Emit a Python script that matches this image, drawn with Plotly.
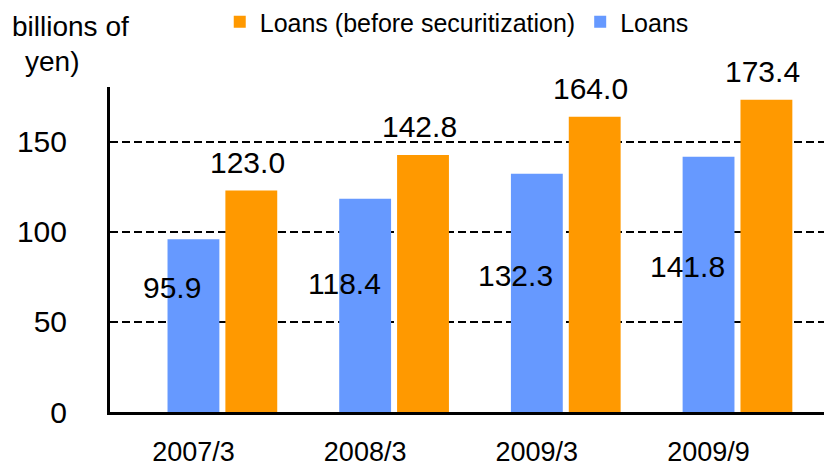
import plotly.graph_objects as go

# data (billions of yen)
periods = ["2007/3", "2008/3", "2009/3", "2009/9"]
loans = [95.9, 118.4, 132.3, 141.8]
loans_before_sec = [123.0, 142.8, 164.0, 173.4]

# where the "Loans" value labels sit (y, data units) - placed inside the blue bars
loan_label_y = [69.4, 71.1, 75.6, 80.6]

FONT = "Arial, Liberation Sans, sans-serif"
BLUE = "#6699FF"
ORANGE = "#FF9900"

fig = go.Figure()
fig.add_trace(go.Bar(
    x=periods, y=loans, name="Loans",
    marker=dict(color=BLUE, line=dict(width=0)),
    offset=-0.151, width=0.302,
))
fig.add_trace(go.Bar(
    x=periods, y=loans_before_sec, name="Loans (before securitization)",
    marker=dict(color=ORANGE, line=dict(width=0)),
    offset=0.186, width=0.302,
))

# value labels
for p, v, ly in zip(periods, loans, loan_label_y):
    fig.add_annotation(x=p, y=ly, text=f"{v:.1f}", showarrow=False,
                       xshift=-21, font=dict(size=30, color="black", family=FONT))
for p, v in zip(periods, loans_before_sec):
    fig.add_annotation(x=p, y=v, text=f"{v:.1f}", showarrow=False,
                       xshift=54, yanchor="bottom", yshift=10,
                       font=dict(size=30, color="black", family=FONT))

# axis title, split over two lines like the original
fig.add_annotation(xref="paper", yref="paper", x=-0.1385, y=1.24, xanchor="left", yanchor="top",
                   text="billions of", showarrow=False, font=dict(size=28, color="black", family=FONT))
fig.add_annotation(xref="paper", yref="paper", x=-0.12, y=1.132, xanchor="left", yanchor="top",
                   text="yen)", showarrow=False, font=dict(size=28, color="black", family=FONT))

fig.update_xaxes(
    range=[-0.486, 3.719], showline=True, linecolor="black", linewidth=3,
    showgrid=False, ticks="", tickfont=dict(size=27, color="black", family=FONT),
    ticklabelstandoff=14, automargin=False,
)
fig.update_yaxes(
    range=[0, 180.5], tickvals=[0, 50, 100, 150], showline=True, linecolor="black", linewidth=3,
    showgrid=True, gridcolor="black", gridwidth=1.5, griddash="8px,4px",
    zeroline=False, ticks="", tickfont=dict(size=30, color="black", family=FONT),
    ticklabelstandoff=34, automargin=False,
)
# page body has an 8px margin, so the figure is 8px smaller and shifted
fig.update_layout(
    width=824, height=454,
    margin=dict(l=102, r=0, t=79, b=50, autoexpand=False),
    paper_bgcolor="white", plot_bgcolor="white",
    barmode="overlay",
    showlegend=True,
    legend=dict(orientation="h", x=0.152, y=1.2, xanchor="left", yanchor="middle",
                traceorder="reversed", font=dict(size=25, color="black", family=FONT),
                itemwidth=30, bgcolor="rgba(0,0,0,0)"),
    font=dict(family=FONT, color="black"),
)

fig.write_html("out.html")
